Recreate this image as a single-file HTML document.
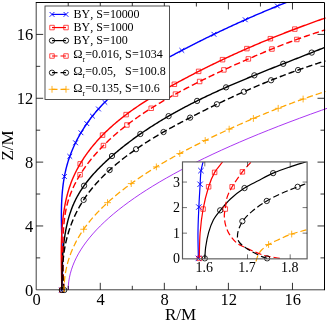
<!DOCTYPE html>
<html><head><meta charset="utf-8"><title>plot</title>
<style>html,body{margin:0;padding:0;background:#fff;}body{width:327px;height:322px;overflow:hidden;font-family:"Liberation Serif",serif;}</style></head>
<body>
<svg width="327" height="322" viewBox="0 0 327 322" style="display:block;will-change:transform">
<rect x="0" y="0" width="327" height="322" fill="#fff"/>
<defs><clipPath id="cm"><rect x="36.20" y="2.50" width="291.30" height="290.30"/></clipPath>
<clipPath id="ci"><rect x="182.50" y="161.90" width="124.60" height="99.95"/></clipPath></defs>
<path d="M68.23 289.80 C68.28 288.47 68.28 287.14 68.36 285.81 C68.44 284.48 68.57 283.14 68.73 281.82 C68.90 280.48 69.11 279.15 69.36 277.83 C69.61 276.49 69.90 275.16 70.24 273.84 C70.57 272.50 70.95 271.17 71.36 269.85 C71.78 268.51 72.24 267.17 72.74 265.86 C73.24 264.51 73.79 263.18 74.36 261.87 C74.96 260.52 75.58 259.19 76.24 257.88 C76.92 256.53 77.63 255.20 78.37 253.89 C79.13 252.54 79.92 251.21 80.75 249.90 C81.59 248.55 82.47 247.22 83.37 245.91 C84.31 244.56 85.27 243.23 86.25 241.92 C87.27 240.57 88.31 239.24 89.38 237.93 C90.48 236.58 91.61 235.25 92.76 233.94 C93.94 232.59 95.16 231.26 96.39 229.95 C97.66 228.59 98.95 227.26 100.27 225.96 C101.62 224.60 103.00 223.27 104.40 221.97 C105.84 220.61 107.30 219.28 108.78 217.98 C110.30 216.62 111.84 215.29 113.41 213.98 C115.01 212.63 116.64 211.30 118.29 209.99 C119.98 208.64 121.69 207.31 123.42 206.00 C125.19 204.65 126.99 203.32 128.80 202.01 C130.66 200.66 132.54 199.33 134.43 198.02 C136.37 196.67 138.34 195.34 140.31 194.03 C142.34 192.68 144.38 191.35 146.44 190.04 C148.55 188.69 150.68 187.36 152.82 186.05 C155.02 184.70 157.23 183.37 159.45 182.06 C161.74 180.71 164.03 179.38 166.34 178.07 C168.70 176.72 171.08 175.39 173.47 174.08 C175.92 172.73 178.38 171.40 180.85 170.09 C183.39 168.74 185.93 167.41 188.48 166.10 C191.10 164.75 193.73 163.42 196.37 162.11 C199.07 160.76 201.78 159.43 204.50 158.12 C207.29 156.77 210.08 155.44 212.88 154.13 C215.75 152.78 218.63 151.45 221.52 150.14 C224.47 148.79 227.43 147.46 230.40 146.15 C233.44 144.80 236.49 143.47 239.54 142.16 C242.66 140.81 245.79 139.48 248.92 138.17 C252.13 136.82 255.34 135.49 258.56 134.18 C261.85 132.83 265.14 131.50 268.44 130.19 C271.81 128.84 275.19 127.51 278.58 126.20 C282.03 124.85 285.50 123.52 288.96 122.21 C292.50 120.86 296.05 119.53 299.60 118.22 C303.22 116.87 306.85 115.54 310.49 114.23 C314.19 112.88 317.91 111.55 321.62 110.24 C325.41 108.89 329.21 107.58 333.01 106.25" fill="none" stroke="#a020f0" stroke-width="0.90" stroke-linejoin="round" clip-path="url(#cm)"/>
<g transform="translate(0.15,0.5)">
<path d="M61.38 289.55L61.50 288.27L61.61 286.97L61.71 285.68L61.80 284.38L61.89 283.08L61.96 281.77L62.03 280.46L62.09 279.14L62.14 277.82L62.19 276.50L62.23 275.17L62.26 273.85L62.29 272.51L62.31 271.18L62.32 269.84L62.33 268.49L62.34 267.15L62.34 265.80L62.33 264.45L62.32 263.10L62.31 261.74L62.29 260.38L62.27 259.02L62.25 257.65L62.22 256.29L62.19 254.92L62.15 253.55L62.12 252.18L62.08 250.80L62.04 249.43L62.00 248.05L61.96 246.67L61.92 245.29L61.87 243.91L61.83 242.53L61.78 241.14L61.74 239.76L61.69 238.37L61.65 236.98L61.61 235.59L61.57 234.20L61.52 232.81L61.49 231.42L61.45 230.03L61.41 228.64L61.38 227.25L61.35 225.86L61.32 224.46L61.30 223.07L61.28 221.68L61.26 220.29L61.25 218.90L61.24 217.51L61.23 216.11L61.23 214.72L61.24 213.34L61.25 211.95L61.26 210.56L61.28 209.17L61.31 207.78L61.34 206.40L61.38 205.02L61.43 203.63L61.49 202.25L61.55 200.87L61.62 199.49L61.69 198.12L61.78 196.74L61.87 195.37L61.97 194.00L62.08 192.63L62.20 191.26L62.33 189.90L62.47 188.54L62.61 187.18L62.77 185.82L62.94 184.46L63.12 183.11L63.31 181.76L63.51 180.42L63.73 179.07L63.95 177.73L64.19 176.39L64.44 175.06L64.70 173.73L64.97 172.40L65.26 171.08L65.56 169.76L65.87 168.44L66.20 167.13L66.54 165.82L66.90 164.51L67.27 163.21L67.65 161.91L68.05 160.62L68.46 159.33L68.89 158.05L69.33 156.77L69.78 155.50L70.25 154.22L70.73 152.96L71.22 151.70L71.73 150.44L72.25 149.19L72.78 147.95L73.32 146.71L73.88 145.47L74.45 144.24L75.03 143.02L75.62 141.80L76.23 140.59L76.85 139.38L77.48 138.18L78.12 136.98L78.77 135.79L79.44 134.61L80.11 133.43L80.80 132.26L81.50 131.10L82.21 129.94L82.93 128.78L83.66 127.64L84.40 126.50L85.15 125.37L85.91 124.24L86.68 123.13L87.47 122.02L88.26 120.91L89.06 119.82L89.87 118.73L90.69 117.64L91.52 116.57L92.36 115.50L93.21 114.44L94.07 113.39L94.93 112.35L95.81 111.31L96.69 110.28L97.59 109.27L98.49 108.25L99.40 107.25L100.32 106.26L101.24 105.27L102.18 104.29L103.12 103.32L104.07 102.35L105.02 101.40L105.99 100.45L106.96 99.51L107.94 98.58L108.93 97.65L109.92 96.73L110.92 95.82L111.93 94.92L112.94 94.02L113.96 93.13L114.99 92.25L116.02 91.37L117.06 90.50L118.11 89.64L119.16 88.78L120.22 87.93L121.29 87.08L122.36 86.25L123.43 85.42L124.51 84.59L125.60 83.77L126.69 82.96L127.79 82.15L128.89 81.35L130.00 80.55L131.11 79.76L132.22 78.97L133.34 78.19L134.47 77.42L135.60 76.65L136.73 75.88L137.87 75.12L139.02 74.37L140.16 73.62L141.31 72.87L142.47 72.13L143.62 71.40L144.79 70.67L145.95 69.94L147.12 69.22L148.29 68.50L149.46 67.79L150.64 67.08L151.82 66.37L153.00 65.67L154.19 64.97L155.37 64.28L156.56 63.59L157.76 62.90L158.95 62.22L160.15 61.54L161.35 60.86L162.55 60.19L163.75 59.52L164.95 58.85L166.16 58.19L167.36 57.52L168.57 56.87L169.78 56.21L170.99 55.56L172.20 54.91L173.41 54.26L174.63 53.61L175.84 52.97L177.05 52.33L178.27 51.69L179.48 51.05L180.69 50.41L181.91 49.78L183.12 49.15L184.34 48.52L185.55 47.89L186.77 47.27L187.98 46.64L189.19 46.02L190.41 45.40L191.62 44.78L192.84 44.16L194.05 43.54L195.27 42.93L196.48 42.32L197.70 41.71L198.91 41.10L200.13 40.49L201.34 39.88L202.56 39.28L203.78 38.68L204.99 38.07L206.21 37.48L207.43 36.88L208.65 36.28L209.86 35.69L211.08 35.09L212.30 34.50L213.52 33.91L214.74 33.32L215.96 32.74L217.18 32.15L218.41 31.57L219.63 30.98L220.85 30.40L222.08 29.82L223.30 29.25L224.52 28.67L225.75 28.10L226.98 27.52L228.20 26.95L229.43 26.38L230.66 25.81L231.89 25.24L233.12 24.68L234.35 24.11L235.58 23.55L236.82 22.99L238.05 22.43L239.29 21.87L240.52 21.31L241.76 20.75L243.00 20.20L244.24 19.64L245.48 19.09L246.72 18.54L247.96 17.99L249.20 17.44L250.45 16.89L251.69 16.35L252.94 15.80L254.19 15.26L255.44 14.72L256.69 14.18L257.94 13.64L259.19 13.10L260.45 12.56L261.70 12.03L262.96 11.49L264.22 10.96L265.48 10.42L266.74 9.89L268.00 9.36L269.26 8.83L270.53 8.31L271.80 7.78L273.06 7.25L274.34 6.73L275.61 6.21L276.88 5.69L278.15 5.16L279.43 4.64L280.71 4.13L281.99 3.61L283.27 3.09L284.55 2.58L285.84 2.06L287.00 1.60" fill="none" stroke="#0000ff" stroke-width="1.42" stroke-linejoin="round" clip-path="url(#cm)"/>
<path d="M58.98 287.15L63.78 291.95M58.98 291.95L63.78 287.15M61.86 173.59L66.66 178.39M61.86 178.39L66.66 173.59M67.24 153.48L72.04 158.28M67.24 158.28L72.04 153.48M72.99 139.89L77.79 144.69M72.99 144.69L77.79 139.89M78.40 129.86L83.20 134.66M78.40 134.66L83.20 129.86M84.28 120.73L89.08 125.53M84.28 125.53L89.08 120.73M89.88 113.21L94.68 118.01M89.88 118.01L94.68 113.21M95.91 106.06L100.71 110.86M95.91 110.86L100.71 106.06M102.24 99.38L107.04 104.18M102.24 104.18L107.04 99.38M179.27 47.51L184.07 52.31M179.27 52.31L184.07 47.51M211.37 31.39L216.17 36.19M211.37 36.19L216.17 31.39M242.70 16.86L247.50 21.66M242.70 21.66L247.50 16.86M274.86 3.13L279.66 7.93M274.86 7.93L279.66 3.13" stroke="#0000ff" stroke-width="0.90" fill="none" clip-path="url(#cm)"/>
<path d="M61.60 289.60L61.59 288.26L61.58 286.91L61.57 285.56L61.55 284.20L61.54 282.84L61.52 281.48L61.50 280.11L61.47 278.73L61.45 277.36L61.43 275.97L61.41 274.59L61.38 273.20L61.36 271.81L61.34 270.41L61.31 269.01L61.29 267.61L61.27 266.21L61.25 264.80L61.23 263.39L61.21 261.98L61.20 260.57L61.19 259.15L61.18 257.74L61.17 256.32L61.16 254.90L61.16 253.48L61.16 252.05L61.17 250.63L61.18 249.20L61.19 247.78L61.21 246.35L61.23 244.92L61.26 243.50L61.29 242.07L61.33 240.64L61.37 239.21L61.42 237.79L61.47 236.36L61.53 234.93L61.60 233.51L61.67 232.08L61.76 230.66L61.84 229.23L61.94 227.81L62.04 226.39L62.15 224.97L62.27 223.56L62.40 222.14L62.53 220.73L62.68 219.32L62.83 217.91L63.00 216.50L63.17 215.10L63.35 213.70L63.54 212.30L63.74 210.91L63.96 209.52L64.18 208.13L64.42 206.75L64.66 205.37L64.92 203.99L65.19 202.62L65.47 201.25L65.76 199.88L66.07 198.52L66.39 197.17L66.72 195.82L67.06 194.47L67.42 193.13L67.79 191.79L68.17 190.46L68.57 189.14L68.99 187.82L69.41 186.51L69.86 185.20L70.31 183.90L70.79 182.60L71.27 181.31L71.78 180.03L72.30 178.76L72.83 177.49L73.38 176.22L73.95 174.97L74.53 173.72L75.12 172.48L75.73 171.24L76.35 170.01L76.99 168.79L77.64 167.58L78.30 166.37L78.98 165.17L79.67 163.97L80.37 162.79L81.09 161.61L81.82 160.43L82.56 159.27L83.31 158.11L84.07 156.96L84.85 155.81L85.64 154.68L86.44 153.55L87.25 152.43L88.07 151.31L88.90 150.21L89.74 149.11L90.59 148.01L91.45 146.93L92.32 145.85L93.21 144.78L94.10 143.72L95.00 142.67L95.91 141.62L96.82 140.59L97.75 139.55L98.68 138.53L99.63 137.52L100.58 136.51L101.54 135.51L102.50 134.52L103.48 133.53L104.46 132.56L105.45 131.59L106.45 130.63L107.45 129.67L108.46 128.72L109.48 127.78L110.51 126.85L111.54 125.92L112.58 125.00L113.63 124.08L114.68 123.17L115.74 122.27L116.80 121.38L117.87 120.49L118.95 119.61L120.04 118.73L121.13 117.86L122.22 117.00L123.32 116.14L124.43 115.29L125.54 114.44L126.66 113.60L127.78 112.76L128.90 111.93L130.04 111.11L131.17 110.29L132.31 109.47L133.46 108.67L134.61 107.86L135.77 107.06L136.92 106.27L138.09 105.48L139.26 104.70L140.43 103.92L141.60 103.14L142.78 102.37L143.96 101.61L145.15 100.85L146.34 100.09L147.53 99.34L148.72 98.59L149.92 97.85L151.12 97.10L152.32 96.37L153.53 95.64L154.74 94.91L155.95 94.18L157.16 93.46L158.38 92.74L159.60 92.03L160.81 91.32L162.04 90.61L163.26 89.90L164.48 89.20L165.71 88.50L166.94 87.81L168.16 87.11L169.39 86.42L170.62 85.74L171.86 85.05L173.09 84.37L174.32 83.69L175.55 83.01L176.79 82.34L178.02 81.66L179.26 80.99L180.49 80.33L181.73 79.66L182.97 79.00L184.20 78.34L185.44 77.68L186.68 77.02L187.92 76.37L189.16 75.72L190.40 75.07L191.64 74.42L192.88 73.77L194.12 73.13L195.37 72.49L196.61 71.85L197.86 71.22L199.10 70.58L200.35 69.95L201.59 69.32L202.84 68.69L204.09 68.07L205.34 67.44L206.59 66.82L207.84 66.20L209.09 65.59L210.34 64.97L211.59 64.36L212.84 63.75L214.10 63.14L215.35 62.53L216.61 61.93L217.86 61.33L219.12 60.73L220.38 60.13L221.63 59.53L222.89 58.94L224.15 58.34L225.41 57.75L226.68 57.16L227.94 56.58L229.20 55.99L230.47 55.41L231.73 54.83L233.00 54.25L234.26 53.67L235.53 53.10L236.80 52.53L238.07 51.95L239.34 51.38L240.61 50.82L241.88 50.25L243.16 49.69L244.43 49.12L245.70 48.56L246.98 48.00L248.26 47.45L249.54 46.89L250.81 46.34L252.09 45.79L253.37 45.24L254.66 44.69L255.94 44.14L257.22 43.60L258.51 43.06L259.79 42.51L261.08 41.97L262.37 41.44L263.66 40.90L264.95 40.37L266.24 39.83L267.53 39.30L268.82 38.77L270.12 38.24L271.41 37.72L272.71 37.19L274.00 36.67L275.30 36.15L276.60 35.62L277.90 35.11L279.20 34.59L280.51 34.07L281.81 33.56L283.12 33.05L284.42 32.53L285.73 32.02L287.04 31.52L288.35 31.01L289.66 30.50L290.97 30.00L292.28 29.50L293.60 29.00L294.91 28.50L296.23 28.00L297.55 27.50L298.87 27.00L300.19 26.51L301.51 26.02L302.83 25.53L304.16 25.04L305.48 24.55L306.81 24.06L308.14 23.57L309.47 23.09L310.80 22.60L312.13 22.12L313.46 21.64L314.80 21.16L316.13 20.68L317.47 20.20L318.81 19.73L320.15 19.25L321.49 18.78L322.83 18.30L324.18 17.83L325.39 17.41" fill="none" stroke="#ff0000" stroke-width="1.42" stroke-linejoin="round" clip-path="url(#cm)"/>
<path d="M59.35 287.35h4.50v4.50h-4.50zM77.77 161.13h4.50v4.50h-4.50zM100.16 132.37h4.50v4.50h-4.50zM123.74 111.85h4.50v4.50h-4.50zM171.95 81.51h4.50v4.50h-4.50zM196.23 68.65h4.50v4.50h-4.50zM220.14 56.92h4.50v4.50h-4.50zM244.48 45.87h4.50v4.50h-4.50zM267.99 35.94h4.50v4.50h-4.50zM292.40 26.35h4.50v4.50h-4.50z" stroke="#ff0000" stroke-width="0.70" fill="none" clip-path="url(#cm)"/>
<path d="M61.70 289.59L61.71 288.37L61.72 287.15L61.72 285.92L61.73 284.68L61.74 283.44L61.75 282.19L61.77 280.93L61.78 279.67L61.79 278.40L61.81 277.13L61.83 275.85L61.85 274.56L61.87 273.28L61.90 271.99L61.93 270.69L61.96 269.39L62.00 268.08L62.04 266.78L62.08 265.47L62.13 264.15L62.18 262.84L62.24 261.52L62.30 260.20L62.37 258.87L62.44 257.55L62.52 256.22L62.61 254.90L62.70 253.57L62.79 252.24L62.90 250.91L63.01 249.58L63.12 248.25L63.25 246.92L63.38 245.58L63.52 244.26L63.67 242.93L63.82 241.60L63.99 240.27L64.16 238.95L64.34 237.62L64.53 236.30L64.73 234.99L64.94 233.67L65.16 232.36L65.39 231.05L65.63 229.74L65.88 228.43L66.14 227.13L66.41 225.84L66.70 224.55L66.99 223.26L67.30 221.98L67.61 220.70L67.95 219.42L68.29 218.16L68.64 216.89L69.01 215.64L69.39 214.39L69.79 213.15L70.20 211.91L70.62 210.68L71.06 209.45L71.51 208.24L71.97 207.03L72.45 205.83L72.95 204.64L73.46 203.45L73.98 202.28L74.52 201.11L75.08 199.95L75.65 198.80L76.24 197.66L76.84 196.53L77.46 195.40L78.09 194.28L78.73 193.18L79.39 192.08L80.06 190.99L80.75 189.90L81.44 188.83L82.15 187.76L82.88 186.70L83.61 185.64L84.36 184.60L85.12 183.56L85.89 182.53L86.67 181.51L87.46 180.49L88.26 179.48L89.08 178.48L89.90 177.48L90.73 176.49L91.57 175.51L92.42 174.54L93.28 173.57L94.15 172.61L95.03 171.65L95.91 170.70L96.80 169.76L97.70 168.82L98.61 167.89L99.53 166.96L100.45 166.04L101.37 165.13L102.31 164.22L103.25 163.31L104.19 162.42L105.14 161.52L106.10 160.64L107.06 159.75L108.02 158.88L108.99 158.01L109.97 157.14L110.94 156.28L111.92 155.42L112.91 154.57L113.90 153.72L114.89 152.87L115.88 152.03L116.88 151.20L117.88 150.37L118.88 149.54L119.89 148.72L120.89 147.90L121.91 147.09L122.92 146.28L123.94 145.48L124.96 144.68L125.99 143.88L127.01 143.09L128.04 142.31L129.08 141.52L130.11 140.74L131.15 139.97L132.19 139.20L133.23 138.43L134.28 137.67L135.33 136.91L136.38 136.16L137.44 135.41L138.50 134.66L139.56 133.92L140.62 133.18L141.68 132.45L142.75 131.71L143.82 130.99L144.90 130.26L145.97 129.54L147.05 128.83L148.13 128.11L149.21 127.41L150.30 126.70L151.39 126.00L152.48 125.30L153.57 124.61L154.66 123.92L155.76 123.23L156.86 122.54L157.96 121.86L159.07 121.19L160.17 120.51L161.28 119.84L162.39 119.17L163.50 118.51L164.62 117.85L165.73 117.19L166.85 116.54L167.97 115.89L169.10 115.24L170.22 114.59L171.35 113.95L172.48 113.31L173.61 112.68L174.74 112.05L175.87 111.42L177.01 110.79L178.15 110.17L179.29 109.54L180.43 108.93L181.57 108.31L182.72 107.70L183.87 107.09L185.01 106.48L186.16 105.88L187.32 105.28L188.47 104.68L189.62 104.08L190.78 103.49L191.94 102.90L193.10 102.31L194.26 101.72L195.42 101.14L196.59 100.56L197.75 99.98L198.92 99.41L200.09 98.83L201.26 98.26L202.43 97.69L203.60 97.13L204.77 96.56L205.95 96.00L207.12 95.44L208.30 94.88L209.48 94.33L210.66 93.77L211.84 93.22L213.02 92.67L214.21 92.13L215.39 91.58L216.58 91.04L217.76 90.50L218.95 89.96L220.14 89.42L221.33 88.89L222.52 88.35L223.71 87.82L224.90 87.29L226.09 86.76L227.29 86.24L228.48 85.71L229.68 85.19L230.87 84.67L232.07 84.15L233.27 83.63L234.47 83.11L235.66 82.60L236.86 82.09L238.06 81.58L239.27 81.07L240.47 80.56L241.67 80.05L242.87 79.54L244.07 79.04L245.28 78.54L246.48 78.03L247.69 77.53L248.89 77.03L250.10 76.53L251.30 76.04L252.51 75.54L253.72 75.05L254.92 74.55L256.13 74.06L257.34 73.57L258.55 73.08L259.75 72.59L260.96 72.10L262.17 71.61L263.38 71.13L264.59 70.64L265.79 70.16L267.00 69.67L268.21 69.19L269.42 68.71L270.63 68.23L271.84 67.74L273.05 67.26L274.26 66.78L275.46 66.31L276.67 65.83L277.88 65.35L279.09 64.87L280.30 64.40L281.51 63.92L282.71 63.44L283.92 62.97L285.13 62.49L286.33 62.02L287.54 61.54L288.75 61.07L289.95 60.60L291.16 60.12L292.36 59.65L293.57 59.18L294.77 58.71L295.97 58.23L297.18 57.76L298.38 57.29L299.58 56.82L300.78 56.34L301.98 55.87L303.19 55.40L304.38 54.93L305.58 54.46L306.78 53.98L307.98 53.51L309.18 53.04L310.37 52.57L311.57 52.09L312.76 51.62L313.96 51.15L315.15 50.67L316.34 50.20L317.53 49.73L318.72 49.25L319.91 48.78L321.10 48.30L322.29 47.83L323.47 47.35L324.54 46.92" fill="none" stroke="#000000" stroke-width="1.42" stroke-linejoin="round" clip-path="url(#cm)"/>
<circle cx="61.70" cy="289.59" r="2.65" stroke="#000000" stroke-width="0.85" fill="none" clip-path="url(#cm)"/>
<circle cx="83.91" cy="185.22" r="2.65" stroke="#000000" stroke-width="0.85" fill="none" clip-path="url(#cm)"/>
<circle cx="111.83" cy="155.50" r="2.65" stroke="#000000" stroke-width="0.85" fill="none" clip-path="url(#cm)"/>
<circle cx="140.19" cy="133.47" r="2.65" stroke="#000000" stroke-width="0.85" fill="none" clip-path="url(#cm)"/>
<circle cx="168.42" cy="115.63" r="2.65" stroke="#000000" stroke-width="0.85" fill="none" clip-path="url(#cm)"/>
<circle cx="196.94" cy="100.39" r="2.65" stroke="#000000" stroke-width="0.85" fill="none" clip-path="url(#cm)"/>
<circle cx="225.85" cy="86.87" r="2.65" stroke="#000000" stroke-width="0.85" fill="none" clip-path="url(#cm)"/>
<circle cx="254.20" cy="74.85" r="2.65" stroke="#000000" stroke-width="0.85" fill="none" clip-path="url(#cm)"/>
<circle cx="283.07" cy="63.30" r="2.65" stroke="#000000" stroke-width="0.85" fill="none" clip-path="url(#cm)"/>
<circle cx="311.57" cy="52.09" r="2.65" stroke="#000000" stroke-width="0.85" fill="none" clip-path="url(#cm)"/>
<path d="M64.05 289.47L63.94 288.15L63.84 286.83L63.75 285.51L63.66 284.18L63.57 282.85L63.49 281.52L63.41 280.19L63.33 278.85L63.26 277.51L63.20 276.17L63.13 274.83L63.07 273.49L63.02 272.14L62.97 270.80L62.92 269.45L62.88 268.10L62.84 266.75L62.80 265.39L62.77 264.04L62.74 262.68L62.72 261.32L62.70 259.96L62.68 258.60L62.67 257.23L62.66 255.87L62.66 254.50L62.65 253.13L62.66 251.76L62.66 250.39L62.67 249.01L62.69 247.64L62.71 246.26L62.73 244.89L62.75 243.51L62.78 242.13L62.81 240.75L62.85 239.36L62.89 237.98L62.94 236.60L63.00 235.21L63.06 233.83L63.13 232.45L63.20 231.07L63.28 229.68L63.37 228.30L63.47 226.93L63.58 225.55L63.70 224.17L63.83 222.80L63.98 221.43L64.13 220.06L64.29 218.70L64.47 217.34L64.66 215.98L64.86 214.63L65.08 213.28L65.31 211.93L65.55 210.59L65.82 209.25L66.09 207.92L66.39 206.60L66.70 205.27L67.02 203.96L67.37 202.65L67.73 201.35L68.11 200.05L68.51 198.76L68.93 197.48L69.36 196.20L69.82 194.93L70.29 193.67L70.77 192.41L71.27 191.16L71.79 189.92L72.33 188.68L72.88 187.45L73.44 186.23L74.02 185.01L74.62 183.80L75.22 182.60L75.85 181.40L76.49 180.21L77.14 179.03L77.80 177.85L78.48 176.68L79.17 175.51L79.87 174.36L80.59 173.21L81.31 172.06L82.05 170.93L82.80 169.80L83.56 168.68L84.34 167.56L85.12 166.45L85.91 165.35L86.72 164.25L87.53 163.16L88.35 162.08L89.19 161.01L90.03 159.94L90.88 158.88L91.73 157.83L92.60 156.78L93.48 155.74L94.36 154.71L95.25 153.68L96.14 152.66L97.05 151.65L97.96 150.65L98.88 149.65L99.80 148.66L100.73 147.67L101.67 146.69L102.62 145.72L103.57 144.76L104.53 143.80L105.49 142.85L106.47 141.90L107.44 140.96L108.43 140.03L109.42 139.10L110.42 138.18L111.42 137.27L112.43 136.36L113.44 135.46L114.46 134.56L115.48 133.67L116.51 132.78L117.55 131.91L118.59 131.03L119.64 130.16L120.69 129.30L121.75 128.45L122.81 127.60L123.87 126.75L124.94 125.91L126.02 125.08L127.10 124.25L128.19 123.42L129.28 122.60L130.37 121.79L131.47 120.98L132.57 120.18L133.68 119.38L134.79 118.59L135.90 117.80L137.02 117.01L138.14 116.23L139.26 115.46L140.39 114.69L141.52 113.92L142.66 113.16L143.80 112.41L144.94 111.66L146.09 110.91L147.23 110.17L148.38 109.43L149.54 108.69L150.69 107.96L151.85 107.24L153.02 106.52L154.18 105.80L155.35 105.09L156.51 104.38L157.69 103.67L158.86 102.97L160.03 102.27L161.21 101.57L162.39 100.88L163.57 100.20L164.75 99.51L165.94 98.83L167.12 98.16L168.31 97.48L169.50 96.81L170.69 96.15L171.88 95.48L173.07 94.82L174.26 94.16L175.45 93.51L176.65 92.86L177.84 92.21L179.04 91.57L180.24 90.92L181.43 90.28L182.63 89.65L183.83 89.01L185.03 88.38L186.23 87.75L187.43 87.13L188.64 86.51L189.84 85.88L191.04 85.27L192.25 84.65L193.45 84.04L194.66 83.42L195.87 82.82L197.08 82.21L198.29 81.60L199.50 81.00L200.71 80.40L201.93 79.80L203.14 79.20L204.36 78.61L205.57 78.02L206.79 77.43L208.01 76.84L209.23 76.25L210.45 75.66L211.67 75.08L212.89 74.49L214.12 73.91L215.34 73.33L216.57 72.75L217.80 72.18L219.03 71.60L220.26 71.03L221.49 70.45L222.72 69.88L223.95 69.31L225.19 68.74L226.42 68.17L227.66 67.60L228.90 67.03L230.14 66.47L231.38 65.91L232.62 65.34L233.86 64.78L235.11 64.22L236.35 63.66L237.59 63.10L238.84 62.55L240.09 61.99L241.33 61.44L242.58 60.89L243.83 60.34L245.08 59.79L246.33 59.24L247.58 58.70L248.83 58.15L250.08 57.61L251.33 57.07L252.58 56.53L253.83 55.99L255.09 55.46L256.34 54.92L257.59 54.39L258.85 53.86L260.10 53.33L261.36 52.81L262.61 52.28L263.87 51.76L265.13 51.24L266.39 50.72L267.64 50.21L268.90 49.69L270.16 49.18L271.42 48.67L272.68 48.16L273.95 47.65L275.21 47.15L276.47 46.65L277.74 46.15L279.00 45.65L280.27 45.15L281.53 44.66L282.80 44.17L284.07 43.68L285.34 43.19L286.61 42.71L287.88 42.23L289.15 41.75L290.42 41.27L291.69 40.79L292.97 40.32L294.24 39.85L295.52 39.38L296.79 38.92L298.07 38.45L299.35 37.99L300.63 37.53L301.91 37.08L303.19 36.62L304.48 36.17L305.76 35.72L307.05 35.28L308.33 34.84L309.62 34.40L310.91 33.96L312.20 33.52L313.49 33.09L314.78 32.66L316.07 32.23L317.37 31.81L318.66 31.39L319.96 30.97L321.26 30.55L322.56 30.14L323.86 29.73L325.03 29.36" fill="none" stroke="#ff0000" stroke-width="1.42" stroke-linejoin="round" stroke-dasharray="6.4 3" clip-path="url(#cm)"/>
<path d="M77.69 171.99h4.50v4.50h-4.50zM101.03 142.80h4.50v4.50h-4.50zM124.53 122.24h4.50v4.50h-4.50zM148.79 105.50h4.50v4.50h-4.50zM173.08 91.33h4.50v4.50h-4.50zM197.25 78.75h4.50v4.50h-4.50zM221.46 67.17h4.50v4.50h-4.50zM245.95 56.17h4.50v4.50h-4.50zM269.55 46.27h4.50v4.50h-4.50zM294.42 36.71h4.50v4.50h-4.50z" stroke="#ff0000" stroke-width="0.70" fill="none" clip-path="url(#cm)"/>
<path d="M64.10 289.69L63.91 288.42L63.74 287.15L63.58 285.88L63.43 284.61L63.29 283.33L63.16 282.06L63.05 280.79L62.95 279.51L62.87 278.24L62.79 276.96L62.73 275.69L62.68 274.42L62.65 273.14L62.63 271.87L62.61 270.60L62.62 269.33L62.63 268.05L62.66 266.78L62.69 265.52L62.75 264.25L62.81 262.98L62.88 261.72L62.97 260.45L63.07 259.19L63.18 257.93L63.31 256.67L63.44 255.41L63.59 254.16L63.75 252.90L63.92 251.65L64.11 250.40L64.30 249.16L64.51 247.91L64.73 246.67L64.96 245.43L65.21 244.20L65.46 242.96L65.73 241.73L66.01 240.50L66.30 239.28L66.60 238.06L66.91 236.84L67.24 235.63L67.57 234.42L67.92 233.21L68.28 232.01L68.65 230.81L69.03 229.62L69.42 228.43L69.83 227.24L70.24 226.06L70.67 224.88L71.11 223.71L71.56 222.54L72.02 221.38L72.49 220.22L72.97 219.07L73.47 217.92L73.97 216.78L74.49 215.64L75.01 214.51L75.55 213.39L76.10 212.26L76.66 211.15L77.23 210.04L77.81 208.94L78.40 207.84L79.00 206.75L79.62 205.67L80.24 204.59L80.88 203.52L81.52 202.45L82.18 201.39L82.84 200.34L83.52 199.30L84.20 198.26L84.90 197.23L85.61 196.21L86.32 195.19L87.05 194.18L87.79 193.18L88.53 192.18L89.29 191.19L90.05 190.21L90.82 189.23L91.61 188.27L92.40 187.30L93.19 186.35L94.00 185.39L94.81 184.45L95.64 183.51L96.47 182.58L97.30 181.66L98.15 180.74L99.00 179.82L99.86 178.92L100.72 178.02L101.59 177.12L102.47 176.23L103.36 175.35L104.25 174.47L105.14 173.60L106.05 172.73L106.95 171.87L107.87 171.02L108.79 170.17L109.71 169.32L110.64 168.49L111.57 167.65L112.51 166.83L113.45 166.00L114.40 165.19L115.35 164.37L116.30 163.57L117.27 162.77L118.23 161.97L119.20 161.18L120.17 160.39L121.15 159.61L122.13 158.83L123.12 158.06L124.11 157.29L125.10 156.53L126.10 155.77L127.10 155.02L128.11 154.27L129.12 153.52L130.13 152.78L131.15 152.05L132.17 151.31L133.19 150.59L134.22 149.86L135.25 149.14L136.28 148.43L137.32 147.72L138.36 147.01L139.40 146.31L140.45 145.61L141.50 144.91L142.55 144.22L143.61 143.53L144.67 142.85L145.73 142.16L146.79 141.49L147.86 140.81L148.92 140.14L150.00 139.47L151.07 138.81L152.15 138.15L153.22 137.49L154.30 136.84L155.39 136.19L156.47 135.54L157.56 134.89L158.65 134.25L159.74 133.61L160.83 132.98L161.93 132.34L163.02 131.71L164.12 131.08L165.22 130.46L166.32 129.84L167.43 129.22L168.53 128.60L169.64 127.98L170.74 127.37L171.85 126.76L172.96 126.15L174.07 125.54L175.19 124.94L176.30 124.34L177.41 123.74L178.53 123.14L179.65 122.54L180.76 121.95L181.88 121.36L183.00 120.77L184.12 120.18L185.24 119.59L186.36 119.00L187.48 118.42L188.60 117.84L189.72 117.26L190.84 116.68L191.96 116.10L193.08 115.52L194.21 114.95L195.33 114.37L196.45 113.80L197.57 113.23L198.70 112.66L199.82 112.09L200.95 111.53L202.07 110.96L203.20 110.40L204.32 109.84L205.45 109.27L206.57 108.72L207.70 108.16L208.83 107.60L209.95 107.05L211.08 106.49L212.21 105.94L213.34 105.39L214.47 104.84L215.60 104.29L216.73 103.75L217.86 103.20L218.99 102.66L220.12 102.12L221.25 101.58L222.38 101.04L223.52 100.51L224.65 99.97L225.78 99.44L226.92 98.91L228.05 98.38L229.19 97.85L230.33 97.32L231.46 96.79L232.60 96.27L233.74 95.75L234.88 95.23L236.02 94.71L237.16 94.19L238.30 93.67L239.44 93.16L240.59 92.65L241.73 92.14L242.87 91.63L244.02 91.12L245.16 90.61L246.31 90.11L247.46 89.61L248.60 89.11L249.75 88.61L250.90 88.11L252.05 87.61L253.20 87.12L254.36 86.63L255.51 86.14L256.66 85.65L257.82 85.16L258.97 84.67L260.13 84.19L261.29 83.71L262.44 83.23L263.60 82.75L264.76 82.27L265.92 81.79L267.08 81.32L268.25 80.85L269.41 80.38L270.58 79.91L271.74 79.44L272.91 78.98L274.07 78.52L275.24 78.06L276.41 77.60L277.58 77.14L278.76 76.68L279.93 76.23L281.10 75.78L282.28 75.33L283.45 74.88L284.63 74.43L285.81 73.99L286.99 73.54L288.17 73.10L289.35 72.66L290.53 72.23L291.72 71.79L292.90 71.36L294.09 70.93L295.28 70.50L296.46 70.07L297.65 69.64L298.84 69.22L300.04 68.79L301.23 68.37L302.43 67.96L303.62 67.54L304.82 67.12L306.02 66.71L307.22 66.30L308.42 65.89L309.62 65.49L310.83 65.08L312.03 64.68L313.24 64.28L314.45 63.88L315.65 63.48L316.87 63.08L318.08 62.69L319.29 62.30L320.51 61.91L321.72 61.52L322.94 61.14L324.16 60.76L325.26 60.41" fill="none" stroke="#000000" stroke-width="1.42" stroke-linejoin="round" stroke-dasharray="6.4 3" clip-path="url(#cm)"/>
<circle cx="64.08" cy="289.56" r="2.65" stroke="#000000" stroke-width="0.85" fill="none" clip-path="url(#cm)"/>
<circle cx="83.45" cy="199.40" r="2.65" stroke="#000000" stroke-width="0.85" fill="none" clip-path="url(#cm)"/>
<circle cx="109.43" cy="169.58" r="2.65" stroke="#000000" stroke-width="0.85" fill="none" clip-path="url(#cm)"/>
<circle cx="135.87" cy="148.71" r="2.65" stroke="#000000" stroke-width="0.85" fill="none" clip-path="url(#cm)"/>
<circle cx="163.35" cy="131.52" r="2.65" stroke="#000000" stroke-width="0.85" fill="none" clip-path="url(#cm)"/>
<circle cx="189.94" cy="117.14" r="2.65" stroke="#000000" stroke-width="0.85" fill="none" clip-path="url(#cm)"/>
<circle cx="216.73" cy="103.75" r="2.65" stroke="#000000" stroke-width="0.85" fill="none" clip-path="url(#cm)"/>
<circle cx="243.79" cy="91.22" r="2.65" stroke="#000000" stroke-width="0.85" fill="none" clip-path="url(#cm)"/>
<circle cx="270.92" cy="79.77" r="2.65" stroke="#000000" stroke-width="0.85" fill="none" clip-path="url(#cm)"/>
<circle cx="297.89" cy="69.56" r="2.65" stroke="#000000" stroke-width="0.85" fill="none" clip-path="url(#cm)"/>
<path d="M63.98 291.39L63.96 290.16L63.95 288.94L63.96 287.72L63.98 286.50L64.02 285.29L64.07 284.08L64.13 282.87L64.21 281.67L64.31 280.48L64.41 279.29L64.54 278.10L64.67 276.91L64.82 275.73L64.98 274.56L65.16 273.39L65.35 272.22L65.55 271.06L65.77 269.91L66.00 268.75L66.24 267.61L66.49 266.46L66.76 265.33L67.04 264.19L67.34 263.07L67.64 261.94L67.96 260.82L68.29 259.71L68.63 258.60L68.99 257.50L69.36 256.40L69.74 255.31L70.13 254.22L70.53 253.14L70.94 252.06L71.37 250.99L71.81 249.93L72.26 248.86L72.72 247.81L73.19 246.76L73.67 245.72L74.17 244.68L74.67 243.65L75.19 242.62L75.71 241.60L76.25 240.58L76.80 239.57L77.35 238.57L77.92 237.57L78.50 236.58L79.09 235.59L79.68 234.61L80.29 233.64L80.91 232.67L81.54 231.71L82.17 230.75L82.82 229.80L83.47 228.85L84.13 227.91L84.80 226.98L85.48 226.05L86.17 225.13L86.87 224.21L87.57 223.30L88.29 222.39L89.01 221.49L89.73 220.59L90.47 219.70L91.21 218.82L91.96 217.93L92.72 217.06L93.48 216.19L94.25 215.32L95.03 214.46L95.82 213.61L96.61 212.76L97.40 211.92L98.21 211.08L99.01 210.24L99.83 209.41L100.65 208.59L101.47 207.77L102.30 206.95L103.14 206.14L103.98 205.34L104.83 204.54L105.68 203.74L106.53 202.95L107.39 202.16L108.26 201.38L109.12 200.60L110.00 199.83L110.87 199.06L111.75 198.29L112.64 197.54L113.52 196.78L114.41 196.03L115.31 195.28L116.21 194.54L117.11 193.80L118.01 193.06L118.92 192.33L119.83 191.61L120.75 190.88L121.67 190.16L122.59 189.45L123.51 188.73L124.43 188.03L125.36 187.32L126.29 186.62L127.23 185.92L128.16 185.23L129.10 184.53L130.04 183.85L130.98 183.16L131.92 182.48L132.87 181.80L133.82 181.13L134.76 180.45L135.72 179.79L136.67 179.12L137.62 178.46L138.58 177.80L139.54 177.14L140.50 176.49L141.46 175.84L142.42 175.19L143.39 174.55L144.36 173.90L145.33 173.27L146.30 172.63L147.27 172.00L148.24 171.37L149.22 170.74L150.20 170.12L151.18 169.50L152.16 168.88L153.14 168.27L154.13 167.66L155.12 167.05L156.10 166.45L157.09 165.84L158.09 165.25L159.08 164.65L160.07 164.06L161.07 163.46L162.07 162.88L163.07 162.29L164.07 161.71L165.07 161.13L166.08 160.55L167.08 159.97L168.09 159.40L169.10 158.83L170.11 158.26L171.12 157.69L172.13 157.13L173.14 156.57L174.16 156.01L175.17 155.45L176.19 154.89L177.21 154.34L178.23 153.79L179.25 153.23L180.27 152.68L181.29 152.14L182.31 151.59L183.34 151.05L184.36 150.50L185.39 149.96L186.42 149.42L187.44 148.88L188.47 148.35L189.50 147.81L190.54 147.28L191.57 146.75L192.60 146.22L193.63 145.69L194.67 145.16L195.70 144.64L196.74 144.11L197.78 143.59L198.81 143.07L199.85 142.55L200.89 142.03L201.93 141.51L202.97 141.00L204.02 140.48L205.06 139.97L206.10 139.46L207.15 138.95L208.19 138.44L209.24 137.93L210.28 137.43L211.33 136.92L212.38 136.42L213.43 135.92L214.47 135.42L215.52 134.92L216.57 134.42L217.62 133.93L218.68 133.43L219.73 132.94L220.78 132.44L221.83 131.95L222.89 131.46L223.94 130.97L225.00 130.49L226.05 130.00L227.11 129.51L228.16 129.03L229.22 128.55L230.28 128.07L231.33 127.58L232.39 127.11L233.45 126.63L234.51 126.15L235.57 125.67L236.63 125.20L237.69 124.73L238.75 124.25L239.81 123.78L240.87 123.31L241.94 122.85L243.00 122.38L244.06 121.91L245.13 121.45L246.19 120.98L247.26 120.52L248.32 120.06L249.39 119.60L250.45 119.14L251.52 118.69L252.59 118.23L253.66 117.78L254.72 117.32L255.79 116.87L256.86 116.42L257.93 115.97L259.00 115.52L260.07 115.08L261.15 114.63L262.22 114.19L263.29 113.74L264.36 113.30L265.44 112.86L266.51 112.42L267.59 111.99L268.66 111.55L269.74 111.12L270.82 110.68L271.89 110.25L272.97 109.82L274.05 109.39L275.13 108.97L276.21 108.54L277.29 108.12L278.37 107.69L279.45 107.27L280.53 106.85L281.62 106.43L282.70 106.02L283.78 105.60L284.87 105.19L285.95 104.77L287.04 104.36L288.12 103.95L289.21 103.55L290.30 103.14L291.39 102.73L292.47 102.33L293.56 101.93L294.65 101.53L295.74 101.13L296.84 100.73L297.93 100.33L299.02 99.94L300.11 99.55L301.21 99.15L302.30 98.76L303.40 98.38L304.49 97.99L305.59 97.60L306.68 97.22L307.78 96.84L308.88 96.46L309.98 96.08L311.08 95.70L312.18 95.33L313.28 94.95L314.38 94.58L315.48 94.21L316.59 93.84L317.69 93.47L318.80 93.11L319.90 92.74L321.01 92.38L322.11 92.02L323.22 91.66L324.33 91.31L325.32 90.99" fill="none" stroke="#ffa500" stroke-width="1.25" stroke-linejoin="round" stroke-dasharray="6.4 3" clip-path="url(#cm)"/>
<path d="M80.14 228.76L86.94 228.76M83.54 225.36L83.54 232.16M103.99 202.16L110.79 202.16M107.39 198.76L107.39 205.56M127.67 183.09L134.47 183.09M131.07 179.69L131.07 186.49M152.80 166.39L159.60 166.39M156.20 162.99L156.20 169.79M176.26 153.01L183.06 153.01M179.66 149.61L179.66 156.41M201.66 139.97L208.46 139.97M205.06 136.57L205.06 143.37M225.61 128.64L232.41 128.64M229.01 125.24L229.01 132.04M249.83 117.96L256.63 117.96M253.23 114.56L253.23 121.36M274.65 107.82L281.45 107.82M278.05 104.42L278.05 111.22M299.56 98.53L306.36 98.53M302.96 95.13L302.96 101.93" stroke="#ffa500" stroke-width="0.85" fill="none" clip-path="url(#cm)"/>
</g>
<path d="M35.80 2.50H324.50V290.20" fill="none" stroke="#000" stroke-width="1"/>
<path d="M36.20 2.50V289.80H324.50" fill="none" stroke="#000" stroke-width="0.75"/>
<path d="M68.23 289.80v-4.00M68.23 2.50v4.00M36.20 257.88h4.00M324.50 257.88h-4.00M100.27 289.80v-7.00M100.27 2.50v7.00M36.20 225.96h7.00M324.50 225.96h-7.00M132.30 289.80v-4.00M132.30 2.50v4.00M36.20 194.03h4.00M324.50 194.03h-4.00M164.33 289.80v-7.00M164.33 2.50v7.00M36.20 162.11h7.00M324.50 162.11h-7.00M196.37 289.80v-4.00M196.37 2.50v4.00M36.20 130.19h4.00M324.50 130.19h-4.00M228.40 289.80v-7.00M228.40 2.50v7.00M36.20 98.27h7.00M324.50 98.27h-7.00M260.43 289.80v-4.00M260.43 2.50v4.00M36.20 66.34h4.00M324.50 66.34h-4.00M292.47 289.80v-7.00M292.47 2.50v7.00M36.20 34.42h7.00M324.50 34.42h-7.00" stroke="#000" stroke-width="0.8" fill="none"/>
<text x="36.50" y="305.40" text-anchor="middle" font-family="Liberation Serif, serif" font-size="16.5px" fill="#000">0</text>
<text x="33.30" y="295.80" text-anchor="end" font-family="Liberation Serif, serif" font-size="16.5px" fill="#000">0</text>
<text x="100.57" y="305.40" text-anchor="middle" font-family="Liberation Serif, serif" font-size="16.5px" fill="#000">4</text>
<text x="33.30" y="231.96" text-anchor="end" font-family="Liberation Serif, serif" font-size="16.5px" fill="#000">4</text>
<text x="164.63" y="305.40" text-anchor="middle" font-family="Liberation Serif, serif" font-size="16.5px" fill="#000">8</text>
<text x="33.30" y="168.11" text-anchor="end" font-family="Liberation Serif, serif" font-size="16.5px" fill="#000">8</text>
<text x="228.70" y="305.40" text-anchor="middle" font-family="Liberation Serif, serif" font-size="16.5px" fill="#000">12</text>
<text x="33.30" y="104.27" text-anchor="end" font-family="Liberation Serif, serif" font-size="16.5px" fill="#000">12</text>
<text x="292.77" y="305.40" text-anchor="middle" font-family="Liberation Serif, serif" font-size="16.5px" fill="#000">16</text>
<text x="33.30" y="40.42" text-anchor="end" font-family="Liberation Serif, serif" font-size="16.5px" fill="#000">16</text>
<text x="180.5" y="319.8" text-anchor="middle" font-family="Liberation Serif, serif" font-size="17px" fill="#000">R/M</text>
<text transform="translate(13.2,145.4) rotate(-90)" text-anchor="middle" font-family="Liberation Serif, serif" font-size="17px" fill="#000">Z/M</text>
<rect x="45" y="6" width="124.5" height="93.5" fill="#fff" stroke="#333" stroke-width="0.85"/>
<path d="M52.00 14.40 H66.00" stroke="#0000ff" stroke-width="1.20" fill="none"/>
<path d="M49.60 12.00L54.40 16.80M49.60 16.80L54.40 12.00M63.60 12.00L68.40 16.80M63.60 16.80L68.40 12.00" stroke="#0000ff" stroke-width="0.90" fill="none"/>
<path d="M52.00 27.55 H66.00" stroke="#ff0000" stroke-width="1.20" fill="none"/>
<path d="M49.75 25.30h4.50v4.50h-4.50zM63.75 25.30h4.50v4.50h-4.50z" stroke="#ff0000" stroke-width="0.70" fill="none"/>
<path d="M52.00 40.60 H66.00" stroke="#000000" stroke-width="1.20" fill="none"/>
<circle cx="52.00" cy="40.60" r="2.65" stroke="#000000" stroke-width="0.85" fill="none"/>
<circle cx="66.00" cy="40.60" r="2.65" stroke="#000000" stroke-width="0.85" fill="none"/>
<path d="M52.00 56.00 H66.00" stroke="#ff0000" stroke-width="1.20" fill="none" stroke-dasharray="5.5 3"/>
<path d="M49.75 53.75h4.50v4.50h-4.50zM63.75 53.75h4.50v4.50h-4.50z" stroke="#ff0000" stroke-width="0.70" fill="none"/>
<path d="M52.00 72.70 H66.00" stroke="#000000" stroke-width="1.20" fill="none" stroke-dasharray="5.5 3"/>
<circle cx="52.00" cy="72.70" r="2.65" stroke="#000000" stroke-width="0.85" fill="none"/>
<circle cx="66.00" cy="72.70" r="2.65" stroke="#000000" stroke-width="0.85" fill="none"/>
<path d="M52.00 89.30 H66.00" stroke="#ffa500" stroke-width="1.20" fill="none" stroke-dasharray="5.5 3"/>
<path d="M48.60 89.30L55.40 89.30M52.00 85.90L52.00 92.70M62.60 89.30L69.40 89.30M66.00 85.90L66.00 92.70" stroke="#ffa500" stroke-width="0.85" fill="none"/>
<text x="73.4 81.4 90.2 93.2 96.2 103.0 109.9 115.8 121.7 127.6 133.5" y="17.90" font-family="Liberation Serif, serif" font-size="12px" fill="#000" style="font-kerning:none" xml:space="preserve">BY, S=10000</text>
<text x="73.4 81.4 90.2 93.2 96.2 103.0 109.9 115.8 121.7 127.6" y="31.05" font-family="Liberation Serif, serif" font-size="12px" fill="#000" style="font-kerning:none" xml:space="preserve">BY, S=1000</text>
<text x="73.4 81.4 90.2 93.2 96.2 103.0 109.9 115.8 121.7" y="44.10" font-family="Liberation Serif, serif" font-size="12px" fill="#000" style="font-kerning:none" xml:space="preserve">BY, S=100</text>
<text x="73.20" y="58.00" font-family="Liberation Serif, serif" font-size="12.5px" fill="#000" style="font-kerning:none">&#937;</text>
<text x="82.60" y="61.90" font-family="Liberation Serif, serif" font-size="7.8px" fill="#000">r</text>
<text x="85.2 92.1 98.1 101.1 107.1 113.1 119.1 122.1 125.1 131.9 138.8 144.8 150.8 156.8" y="58.00" font-family="Liberation Serif, serif" font-size="12px" fill="#000" style="font-kerning:none" xml:space="preserve">=0.016, S=1034</text>
<text x="73.20" y="74.50" font-family="Liberation Serif, serif" font-size="12.5px" fill="#000" style="font-kerning:none">&#937;</text>
<text x="82.60" y="78.40" font-family="Liberation Serif, serif" font-size="7.8px" fill="#000">r</text>
<text x="85.2 92.1 98.1 101.1 107.1 113.1 116.1 119.1 122.1 125.1 131.9 138.8 144.8 150.8 156.8 159.8" y="74.50" font-family="Liberation Serif, serif" font-size="12px" fill="#000" style="font-kerning:none" xml:space="preserve">=0.05,   S=100.8</text>
<text x="73.20" y="91.60" font-family="Liberation Serif, serif" font-size="12.5px" fill="#000" style="font-kerning:none">&#937;</text>
<text x="82.60" y="95.50" font-family="Liberation Serif, serif" font-size="7.8px" fill="#000">r</text>
<text x="85.2 92.1 98.1 101.1 107.1 113.1 119.1 122.1 125.1 131.9 138.8 144.8 150.8 153.8" y="91.60" font-family="Liberation Serif, serif" font-size="12px" fill="#000" style="font-kerning:none" xml:space="preserve">=0.135, S=10.6</text>
<rect x="182.50" y="161.90" width="124.60" height="96.95" fill="#fff" stroke="none"/>
<path d="M198.39 258.40 C198.25 249.97 197.90 241.53 197.97 233.10 C198.04 224.66 198.45 216.23 198.82 207.80 C199.16 200.21 199.66 192.62 200.10 185.03 C200.37 180.39 200.37 175.71 200.96 171.11 C201.36 167.95 202.38 164.87 203.09 161.75" fill="none" stroke="#0000ff" stroke-width="1.20" stroke-linejoin="round" clip-path="url(#ci)"/>
<path d="M195.69 255.70L201.09 261.10M195.69 261.10L201.09 255.70M196.12 204.34L201.52 209.74M196.12 209.74L201.52 204.34M197.40 181.57L202.80 186.97M197.40 186.97L202.80 181.57M198.26 167.91L203.66 173.31M198.26 173.31L203.66 167.91" stroke="#0000ff" stroke-width="0.90" fill="none" clip-path="url(#ci)"/>
<path d="M199.25 258.40 C199.53 249.97 199.45 241.50 200.10 233.10 C200.73 225.06 201.63 216.99 203.09 209.06 C204.48 201.56 206.36 194.08 208.64 186.80 C210.20 181.85 212.09 176.88 214.62 172.38 C216.79 168.53 220.03 165.30 222.73 161.75" fill="none" stroke="#ff0000" stroke-width="1.20" stroke-linejoin="round" clip-path="url(#ci)"/>
<path d="M197.00 256.15h4.50v4.50h-4.50zM200.84 206.81h4.50v4.50h-4.50zM206.39 184.55h4.50v4.50h-4.50zM212.37 170.13h4.50v4.50h-4.50z" stroke="#ff0000" stroke-width="0.70" fill="none" clip-path="url(#ci)"/>
<path d="M204.80 258.40 C205.08 254.69 205.11 250.94 205.65 247.27 C206.39 242.26 207.27 237.21 208.64 232.34 C209.84 228.10 211.31 223.83 213.34 219.94 C215.01 216.74 217.45 213.91 219.74 211.09 C223.14 206.91 226.49 202.60 230.42 198.94 C234.75 194.92 239.57 191.31 244.51 188.07 C248.82 185.24 253.59 183.12 258.18 180.73 C263.13 178.14 268.00 175.36 273.12 173.14 C278.68 170.72 284.46 168.78 290.20 166.81 C295.56 164.98 301.02 163.44 306.43 161.75" fill="none" stroke="#000000" stroke-width="1.20" stroke-linejoin="round" clip-path="url(#ci)"/>
<circle cx="204.80" cy="258.40" r="2.65" stroke="#000000" stroke-width="0.85" fill="none" clip-path="url(#ci)"/>
<circle cx="220.17" cy="210.33" r="2.65" stroke="#000000" stroke-width="0.85" fill="none" clip-path="url(#ci)"/>
<circle cx="244.51" cy="188.07" r="2.65" stroke="#000000" stroke-width="0.85" fill="none" clip-path="url(#ci)"/>
<circle cx="273.12" cy="173.14" r="2.65" stroke="#000000" stroke-width="0.85" fill="none" clip-path="url(#ci)"/>
<path d="M279.78 258.40 C277.19 257.94 274.60 257.50 272.01 257.01 C269.30 256.49 266.53 256.18 263.90 255.39 C260.72 254.44 257.66 253.08 254.59 251.80 C251.45 250.48 248.33 249.10 245.28 247.60 C242.39 246.17 239.18 245.06 236.78 242.99 C233.76 240.39 231.10 237.03 229.01 233.61 C227.30 230.80 226.19 227.50 225.38 224.30 C224.62 221.30 224.33 218.10 224.31 215.01 C224.30 213.02 224.99 211.05 225.30 209.06 C225.88 205.27 225.89 201.31 227.00 197.68 C228.17 193.89 230.08 190.23 232.13 186.80 C235.21 181.63 238.71 176.66 242.38 171.87 C244.98 168.48 248.07 165.46 250.92 162.26" fill="none" stroke="#ff0000" stroke-width="1.20" stroke-linejoin="round" stroke-dasharray="6.4 3" clip-path="url(#ci)"/>
<path d="M223.05 206.81h4.50v4.50h-4.50zM229.88 184.55h4.50v4.50h-4.50zM240.13 169.62h4.50v4.50h-4.50z" stroke="#ff0000" stroke-width="0.70" fill="none" clip-path="url(#ci)"/>
<path d="M267.01 258.40 C264.94 257.63 262.81 256.99 260.78 256.10 C258.17 254.95 255.60 253.68 253.09 252.30 C250.43 250.84 247.76 249.34 245.28 247.60 C243.36 246.24 241.39 244.77 239.90 242.99 C238.80 241.67 237.72 239.98 237.51 238.31 C237.19 235.82 237.57 232.97 238.32 230.49 C239.30 227.26 240.76 223.97 242.72 221.21 C245.24 217.67 248.42 214.42 251.77 211.59 C256.42 207.67 261.51 204.14 266.72 200.97 C271.47 198.07 276.58 195.70 281.66 193.38 C286.90 190.98 292.31 188.94 297.67 186.80 C300.57 185.65 303.51 184.61 306.43 183.51" fill="none" stroke="#000000" stroke-width="1.20" stroke-linejoin="round" stroke-dasharray="6.4 3" clip-path="url(#ci)"/>
<circle cx="267.14" cy="258.40" r="2.65" stroke="#000000" stroke-width="0.85" fill="none" clip-path="url(#ci)"/>
<circle cx="242.38" cy="221.21" r="2.65" stroke="#000000" stroke-width="0.85" fill="none" clip-path="url(#ci)"/>
<circle cx="266.72" cy="200.97" r="2.65" stroke="#000000" stroke-width="0.85" fill="none" clip-path="url(#ci)"/>
<circle cx="297.67" cy="186.80" r="2.65" stroke="#000000" stroke-width="0.85" fill="none" clip-path="url(#ci)"/>
<path d="M255.91 261.59 C256.61 259.52 257.05 257.33 258.00 255.39 C258.95 253.47 260.10 251.53 261.59 250.00 C263.63 247.90 266.07 246.04 268.59 244.51 C272.05 242.43 275.84 240.86 279.52 239.17 C283.33 237.42 287.10 235.55 291.05 234.19 C296.07 232.46 301.30 231.34 306.43 229.91" fill="none" stroke="#ffa500" stroke-width="1.20" stroke-linejoin="round" stroke-dasharray="6.4 3" clip-path="url(#ci)"/>
<path d="M265.19 244.51L271.99 244.51M268.59 241.11L268.59 247.91M288.29 234.06L295.09 234.06M291.69 230.66L291.69 237.46" stroke="#ffa500" stroke-width="0.85" fill="none" clip-path="url(#ci)"/>
<rect x="182.50" y="161.90" width="124.60" height="96.95" fill="none" stroke="#5a5a5a" stroke-width="1.15"/>
<path d="M182.50 233.15h4.50M307.10 233.15h-4.50M182.50 207.60h4.50M307.10 207.60h-4.50M182.50 182.05h4.50M307.10 182.05h-4.50M204.80 258.85v-4.50M204.80 161.90v4.50M247.50 258.85v-4.50M247.50 161.90v4.50M290.20 258.85v-4.50M290.20 161.90v4.50" stroke="#000" stroke-width="0.55" fill="none"/>
<text x="180.00" y="263.30" text-anchor="end" font-family="Liberation Serif, serif" font-size="14px" fill="#000">0</text>
<text x="180.00" y="237.75" text-anchor="end" font-family="Liberation Serif, serif" font-size="14px" fill="#000">1</text>
<text x="180.00" y="212.20" text-anchor="end" font-family="Liberation Serif, serif" font-size="14px" fill="#000">2</text>
<text x="180.00" y="186.65" text-anchor="end" font-family="Liberation Serif, serif" font-size="14px" fill="#000">3</text>
<text x="204.30" y="272.30" text-anchor="middle" font-family="Liberation Serif, serif" font-size="14px" fill="#000">1.6</text>
<text x="247.00" y="272.30" text-anchor="middle" font-family="Liberation Serif, serif" font-size="14px" fill="#000">1.7</text>
<text x="289.70" y="272.30" text-anchor="middle" font-family="Liberation Serif, serif" font-size="14px" fill="#000">1.8</text>
</svg>
</body></html>
